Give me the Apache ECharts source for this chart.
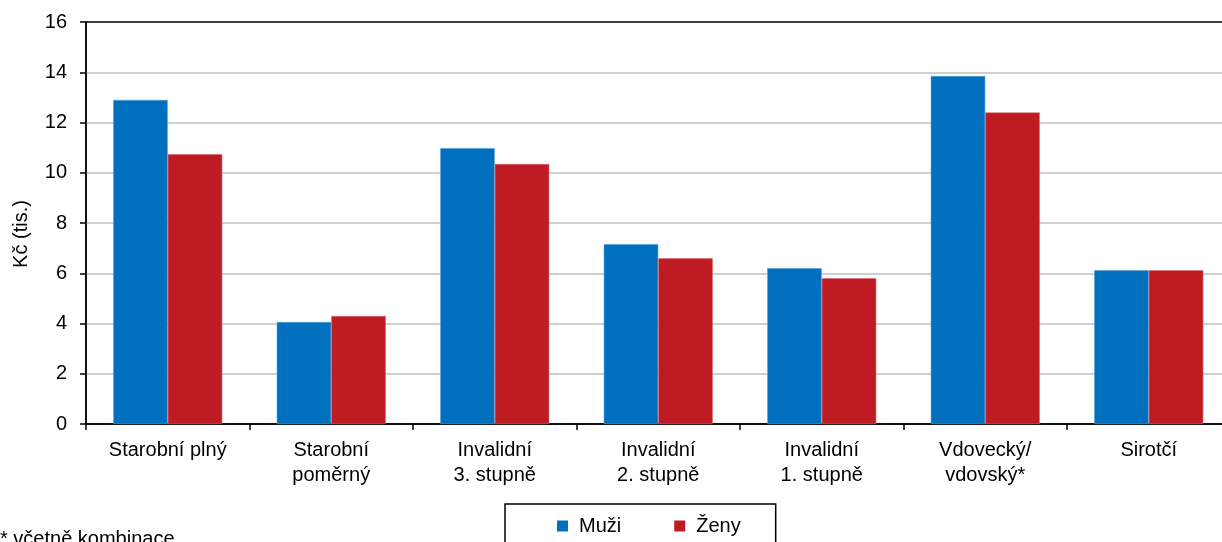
<!DOCTYPE html>
<html><head><meta charset="utf-8">
<script src="https://cdn.jsdelivr.net/npm/echarts@6/dist/echarts.min.js"></script>
<style>html,body{margin:0;padding:0;background:#fff}#c{width:1222px;height:542px}</style>
</head><body><div id="c"></div>
<script>
const categories = ['Starobní plný','Starobní\npoměrný','Invalidní\n3. stupně','Invalidní\n2. stupně','Invalidní\n1. stupně','Vdovecký/\nvdovský*','Sirotčí'];
const muzi = [12.9, 4.06, 10.98, 7.16, 6.2, 13.85, 6.12];
const zeny = [10.74, 4.3, 10.35, 6.6, 5.8, 12.4, 6.12];
const yTicks = [0, 2, 4, 6, 8, 10, 12, 14, 16];
const FONT = '"Liberation Sans", Arial, sans-serif';
const FS = 20;
const chart = echarts.init(document.getElementById('c'));
chart.setOption({
  animation: false,
  textStyle: {fontFamily: FONT},
  grid: {left: 86, top: 22, bottom: 118, width: 1144.5, outerBoundsMode: 'none', show: true, borderColor: '#000', borderWidth: 1.5, containLabel: false},
  legend: {
    data: ['Muži', 'Ženy'],
    left: 505, top: 504,
    itemWidth: 11, itemHeight: 11, itemGap: 53,
    icon: 'rect',
    itemStyle: {borderWidth: 0},
    padding: [12, 35, 30, 52],
    borderColor: '#000', borderWidth: 1.5,
    textStyle: {fontSize: FS, color: '#000', fontFamily: FONT, padding: [0, 0, 0, 6]}
  },
  graphic: [
    {type: 'text', left: 0, top: 529, style: {text: '* včetně kombinace', fontSize: FS, fill: '#000', fontFamily: FONT}},
    {type: 'text', x: 21, y: 234, rotation: Math.PI / 2,
     style: {text: 'Kč (tis.)', fontSize: FS, fill: '#000', fontFamily: FONT, align: 'center', verticalAlign: 'middle'}}
  ],
  xAxis: {
    type: 'category', data: categories,
    axisLine: {lineStyle: {color: '#000', width: 1.5}},
    axisTick: {show: true, length: 6, lineStyle: {color: '#000', width: 1.5}},
    axisLabel: {color: '#000', fontSize: FS, margin: 14, lineHeight: 25, interval: 0, fontFamily: FONT}
  },
  yAxis: {
    type: 'value', min: yTicks[0], max: yTicks[yTicks.length - 1], interval: 2,
    axisLine: {show: true, lineStyle: {color: '#000', width: 1.5}},
    axisTick: {show: true, length: 6, lineStyle: {color: '#000', width: 1.5}},
    axisLabel: {color: '#000', fontSize: FS, margin: 19, fontFamily: FONT},
    splitLine: {showMinLine: false, showMaxLine: false, lineStyle: {color: '#c0c0c0', width: 1.5}}
  },
  series: [
    {name: 'Muži', type: 'bar', data: muzi, barGap: '0%', barCategoryGap: '33.3%',
     itemStyle: {color: '#0070BE', borderColor: '#5a9fd6', borderWidth: 0.6}},
    {name: 'Ženy', type: 'bar', data: zeny, barGap: '0%', barCategoryGap: '33.3%',
     itemStyle: {color: '#BE1B23', borderColor: '#d9696e', borderWidth: 0.6}}
  ]
});
</script></body></html>
